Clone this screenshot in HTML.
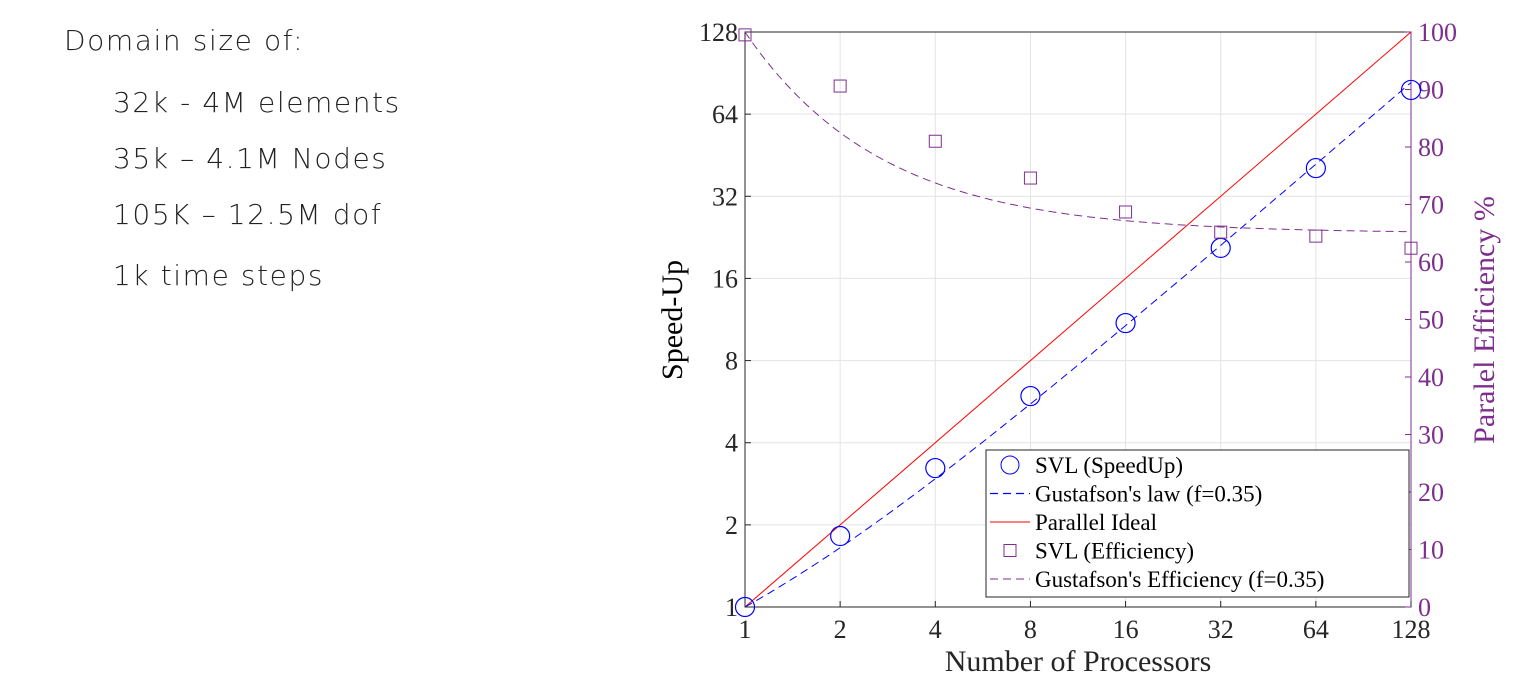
<!DOCTYPE html>
<html><head><meta charset="utf-8"><style>
body{margin:0;background:#fff;width:1517px;height:690px;overflow:hidden;position:relative}
.t{position:absolute;font-family:"DejaVu Sans","Liberation Sans",sans-serif;font-weight:200;font-size:28px;color:#222;letter-spacing:1.6px;white-space:nowrap}
svg text{font-family:"Liberation Serif",serif}
</style></head><body>
<div class="t" style="left:64px;top:24px">Domain size of:</div>
<div class="t" style="left:113px;top:86px">32k - 4M elements</div>
<div class="t" style="left:113px;top:142px">35k – 4.1M Nodes</div>
<div class="t" style="left:113px;top:198px">105K – 12.5M dof</div>
<div class="t" style="left:113px;top:259px">1k time steps</div>
<svg id="c" width="1517" height="690" style="position:absolute;left:0;top:0"></svg>
<script>
const procs=[1,2,4,8,16,32,64,128];
const speedup=[1,1.82,3.23,5.93,10.98,20.7,40.6,78.5];
const efficiency=[99.5,90.6,81,74.6,68.7,65.2,64.5,62.4];
const yTicks=[1,2,4,8,16,32,64,128];
const effTicks=[0,10,20,30,40,50,60,70,80,90,100];
const f=0.35;
const L=745,R=1411,T=32,B=607;
const X=v=>L+Math.log2(v)/7*(R-L);
const Y=v=>B-Math.log2(v)/7*(B-T);
const YE=v=>B-v/100*(B-T);
const svg=document.getElementById('c');const NS='http://www.w3.org/2000/svg';
function el(t,a,txt){const e=document.createElementNS(NS,t);for(const k in a)e.setAttribute(k,a[k]);if(txt!==undefined)e.textContent=txt;svg.appendChild(e);return e;}
procs.forEach(p=>{const g=el('line',{x1:X(p),x2:X(p),y1:T,y2:B,stroke:'#e3e3e3'});
});
yTicks.forEach(p=>{const g=el('line',{x1:L,x2:R,y1:Y(p),y2:Y(p),stroke:'#e3e3e3'});
});
const bx=el('rect',{x:L,y:T,width:R-L,height:B-T,fill:'none',stroke:'#262626'});

el('line',{x1:R,x2:R,y1:T,y2:B,stroke:'#7e2f8e'});
procs.forEach(p=>{el('line',{x1:X(p),x2:X(p),y1:B,y2:B-6,stroke:'#262626'});
const t=el('text',{x:X(p),y:B+31,'font-size':26,'text-anchor':'middle',fill:'#262626'},p);
});
yTicks.forEach(p=>{el('line',{x1:L,x2:L+6,y1:Y(p),y2:Y(p),stroke:'#262626'});
const t=el('text',{x:L-7,y:Y(p)+9,'font-size':26,'text-anchor':'end',fill:'#262626'},p);
});
effTicks.forEach(p=>{el('line',{x1:R,x2:R-6,y1:YE(p),y2:YE(p),stroke:'#7e2f8e'});
const t=el('text',{x:R+7,y:YE(p)+9,'font-size':26,fill:'#7e2f8e'},p);
});
let t=el('text',{x:(L+R)/2,y:671,'font-size':30,'text-anchor':'middle',fill:'#262626'},'Number of Processors');

t=el('text',{transform:'translate(682,320) rotate(-90)','font-size':30,'text-anchor':'middle',fill:'#000'},'Speed-Up');

t=el('text',{transform:'translate(1494,320) rotate(-90)','font-size':30,'text-anchor':'middle',fill:'#7e2f8e'},'Paralel Efficiency %');

let l=el('line',{x1:X(1),y1:Y(1),x2:X(128),y2:Y(128),stroke:'#ff0000','stroke-width':1});

let d1='',d2='';
for(let i=0;i<=140;i++){const n=Math.pow(2,7*i/140);const s=f+(1-f)*n;const e=100*s/n;
d1+=(i?'L':'M')+X(n).toFixed(1)+','+Y(s).toFixed(1);d2+=(i?'L':'M')+X(n).toFixed(1)+','+YE(e).toFixed(1);}
l=el('path',{d:d1,fill:'none',stroke:'#0000ff','stroke-dasharray':'8 5'});

l=el('path',{d:d2,fill:'none',stroke:'#7e2f8e','stroke-dasharray':'8 5'});

procs.forEach((p,i)=>{const c=el('circle',{cx:X(p),cy:Y(speedup[i]),r:9.5,fill:'none',stroke:'#0000ff','stroke-width':1.2});

const s=el('rect',{x:X(p)-6,y:YE(efficiency[i])-6,width:12,height:12,fill:'none',stroke:'#7e2f8e'});
});
const lg=el('rect',{x:986,y:450,width:423,height:147,fill:'#fff',stroke:'#262626'});

const items=['SVL (SpeedUp)',"Gustafson's law (f=0.35)",'Parallel Ideal','SVL (Efficiency)',"Gustafson's Efficiency (f=0.35)"];
items.forEach((s,i)=>{const y=465+i*28.5;
if(i==0)el('circle',{cx:1010,cy:y,r:9,fill:'none',stroke:'#0000ff'});
if(i==1)el('line',{x1:990,x2:1030,y1:y,y2:y,stroke:'#0000ff','stroke-width':1.3,'stroke-dasharray':'8 5'});
if(i==2)el('line',{x1:990,x2:1030,y1:y,y2:y,stroke:'#ff0000'});
if(i==3)el('rect',{x:1004,y:y-6,width:12,height:12,fill:'none',stroke:'#7e2f8e'});
if(i==4)el('line',{x1:990,x2:1030,y1:y,y2:y,stroke:'#7e2f8e','stroke-dasharray':'8 5'});
const tt=el('text',{x:1035,y:y+8,'font-size':23,fill:'#000'},s);
});
</script>
</body></html>
